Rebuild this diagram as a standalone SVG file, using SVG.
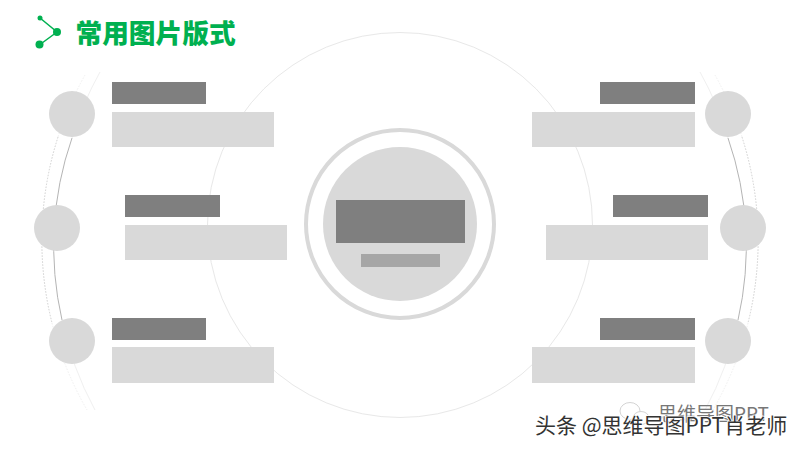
<svg xmlns="http://www.w3.org/2000/svg" width="800" height="450" viewBox="0 0 800 450">
<style>
.dk{fill:#7f7f7f}.lt{fill:#d9d9d9}.dot{fill:#d9d9d9}
.ring{fill:none;stroke:#e8e8e8;stroke-width:1}
.solid{fill:none;stroke:#b4b4b4;stroke-width:1}
.fade{fill:none;stroke:#f0f0f0;stroke-width:1}
.dash{fill:none;stroke:#cfcfcf;stroke-width:1;stroke-dasharray:1.500 1.500}
.g{fill:#00b050;stroke:#00b050}
text{font-family:"Noto Sans CJK SC","Liberation Sans",sans-serif}
</style>
<rect width="800" height="450" fill="#fff"/>
<g id="title-icon" class="g">
<path d="M40 18L57 32L40 44.500" fill="none" stroke-width="1.500"/>
<circle cx="40" cy="18" r="2.500" stroke="none"/><circle cx="57" cy="32" r="4" stroke="none"/><circle cx="39.500" cy="44.500" r="4" stroke="none"/>
</g>
<text id="title" x="75.500" y="43" font-size="26.700" font-weight="900" fill="#00b050">常用图片版式</text>
<g id="connectors">
<circle class="ring" cx="400" cy="225" r="192.500"/>
<path class="fade" d="M100 72A330 330 0 0 0 72 138M62 320A330 330 0 0 0 95 410"/>
<path class="solid" d="M72 138A330 330 0 0 0 62 320"/>
<path class="dash" d="M58 137A340 340 0 0 0 52 323"/>
<path class="fade" d="M85 75A340 340 0 0 0 58 137M52 323A340 340 0 0 0 87 410" stroke-dasharray="1.500 1.500"/>
<path class="fade" d="M700 72A330 330 0 0 1 728 138M738 320A330 330 0 0 1 705 410"/>
<path class="solid" d="M728 138A330 330 0 0 1 738 320"/>
<path class="dash" d="M742 137A340 340 0 0 1 748 323"/>
<path class="fade" d="M715 75A340 340 0 0 1 742 137M748 323A340 340 0 0 1 713 410" stroke-dasharray="1.500 1.500"/>
</g>
<g id="center">
<circle cx="400" cy="224" r="94" fill="#fff" stroke="#d9d9d9" stroke-width="4"/>
<circle cx="400" cy="224" r="77" class="lt"/>
<rect class="dk" x="336" y="200" width="129" height="43"/>
<rect x="361" y="254" width="79" height="13" fill="#a6a6a6"/>
</g>
<g id="left-1"><circle class="dot" cx="72" cy="114" r="23"/><rect class="dk" x="112" y="82" width="94" height="22"/><rect class="lt" x="112" y="112" width="162" height="35"/></g>
<g id="left-2"><circle class="dot" cx="57" cy="228" r="23"/><rect class="dk" x="125" y="195" width="95" height="22"/><rect class="lt" x="125" y="225" width="162" height="35"/></g>
<g id="left-3"><circle class="dot" cx="72" cy="341" r="23"/><rect class="dk" x="112" y="318" width="94" height="22"/><rect class="lt" x="112" y="347" width="162" height="36"/></g>
<g id="right-1"><circle class="dot" cx="728" cy="114" r="23"/><rect class="dk" x="600" y="82" width="95" height="22"/><rect class="lt" x="532" y="112" width="163" height="35"/></g>
<g id="right-2"><circle class="dot" cx="743" cy="228" r="23"/><rect class="dk" x="613" y="195" width="95" height="22"/><rect class="lt" x="546" y="225" width="162" height="35"/></g>
<g id="right-3"><circle class="dot" cx="728" cy="341" r="23"/><rect class="dk" x="600" y="318" width="95" height="22"/><rect class="lt" x="532" y="347" width="163" height="36"/></g>
<g id="watermark">
<ellipse cx="630" cy="411" rx="10" ry="8.500" fill="#fff" stroke="#d4d4d4"/>
<ellipse cx="641" cy="418" rx="8" ry="6.500" fill="#fff" stroke="#d4d4d4"/>
<text x="658" y="421" font-size="19" fill="#777">思维导图PPT</text>
<text x="535" y="433" font-size="21" fill="#333" stroke="#fff" stroke-width="1.500" paint-order="stroke">头条 @思维导图PPT肖老师</text>
</g>
</svg>
